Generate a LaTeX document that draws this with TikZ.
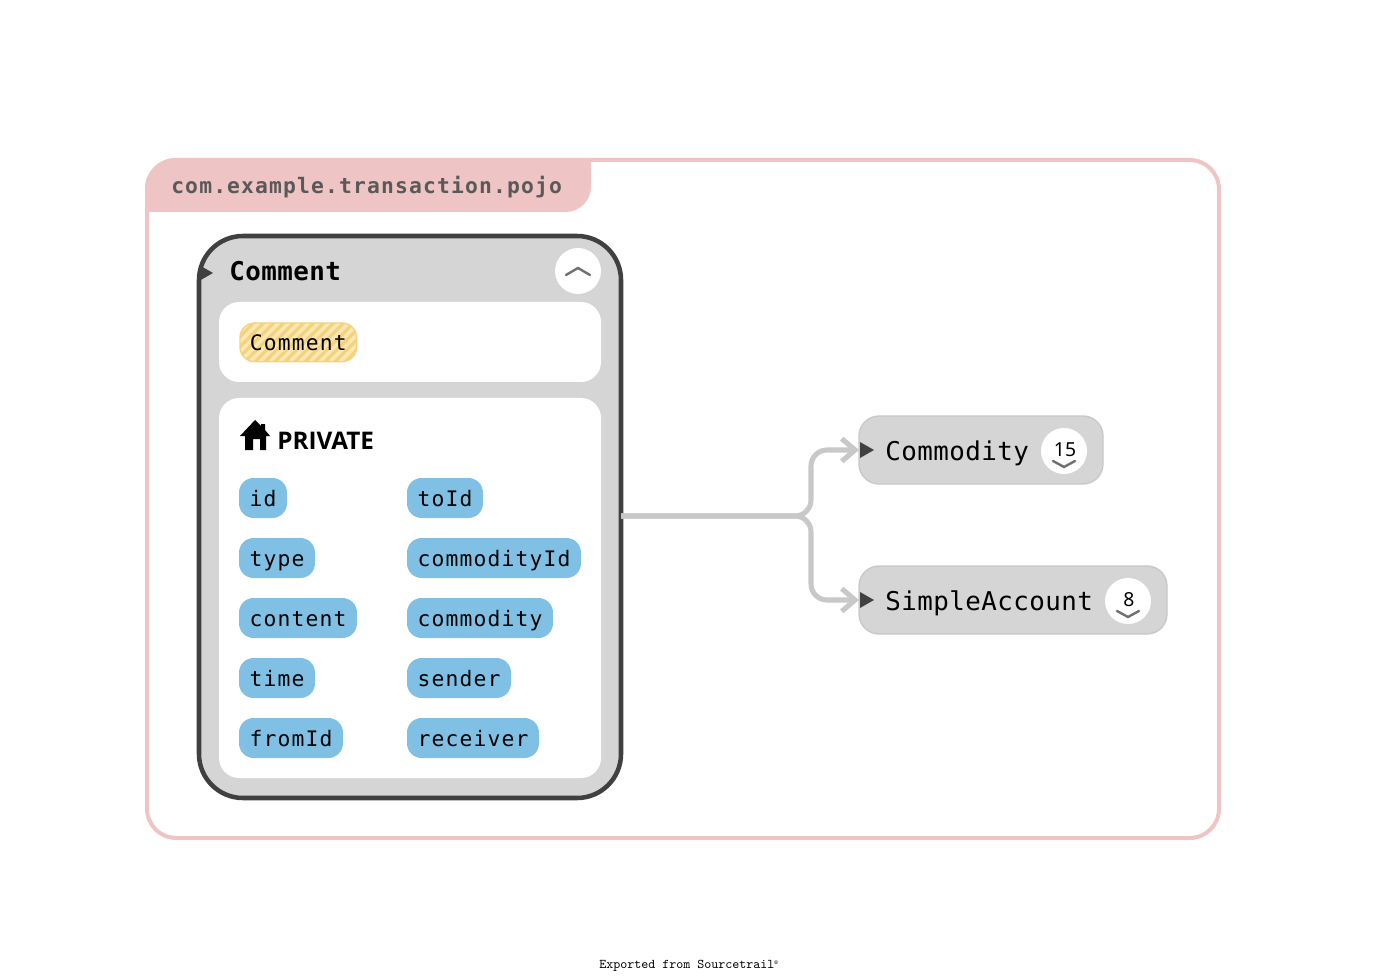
\documentclass[tikz,border=0pt]{standalone}
\usepackage{fontspec}
\usetikzlibrary{arrows.meta}
\setmainfont{Noto Sans}
\newfontfamily\codefont[LetterSpace=5.4]{DejaVu Sans Mono}
\newfontfamily\wideFont[LetterSpace=1.7]{DejaVu Sans Mono}
\newfontfamily\headfont{Open Sans}
\definecolor{grouppink}{HTML}{EFC4C4}
\definecolor{panelgray}{HTML}{D5D5D5}
\definecolor{edgegray}{HTML}{C8C8C8}
\definecolor{darkline}{HTML}{404040}
\definecolor{fieldblue}{HTML}{80C0E4}
\definecolor{hatchyellow}{HTML}{F5D27E}
\definecolor{hatchlight}{HTML}{FBE8B4}
\tikzset{
    fieldpill/.style={anchor=north west,rounded corners=11pt,minimum height=30pt,inner sep=0pt,outer sep=0pt,
        font=\codefont\fontsize{16}{16}\selectfont,text height=14.7pt,text depth=2.5pt},
    section/.style={anchor=north west,fill=white,rounded corners=15pt,inner sep=0pt,outer sep=0pt,minimum width=286.5pt},
    refnode/.style={anchor=north west,fill=panelgray,draw=edgegray,line width=1pt,rounded corners=15pt,inner sep=0pt,
        outer sep=0pt,minimum height=51pt},
    reftext/.style={anchor=base west,inner sep=0pt,font=\wideFont\fontsize{19.4}{20}\selectfont},
    badge/.style={circle,fill=white,minimum size=34.5pt,inner sep=0pt},
    badgetext/.style={inner sep=0pt,font=\fontsize{14.5}{15}\selectfont},
    chevron/.style={draw=darkline!75,line width=1.8pt,line cap=round},
    marker/.style={fill=darkline},
    edge/.style={draw=edgegray,line width=3.8pt,rounded corners=12pt,
        -{Straight Barb[length=10pt,width=17pt,line width=3.8pt]}}
}
\begin{document}
\begin{tikzpicture}[x=0.75pt,y=-0.75pt]
    \useasboundingbox (0,0) rectangle (1374,980);

    % the package frame and its tab
    \node[anchor=north west,draw=grouppink,line width=3pt,rounded corners=22pt,inner sep=0pt,outer sep=0pt,
        minimum width=804pt,minimum height=508.5pt] (package) at (147,160) {};
    \fill[grouppink] (145,212) [rounded corners=23pt] -- (145,158) [sharp corners] -- (591,158)
        [rounded corners=19pt] -- (591,212) [sharp corners] -- cycle;
    \node[anchor=base west,inner sep=0pt,text=black!65,font=\codefont\bfseries\fontsize{16}{16}\selectfont]
        (packagename) at (171,194) {com.example.transaction.pojo};

    % the expanded class
    \node[anchor=north west,draw=darkline,fill=panelgray,line width=3.4pt,rounded corners=33pt,inner sep=0pt,outer sep=0pt,
        minimum width=316.5pt,minimum height=421.5pt] (comment) at (199,236) {};
    \fill[marker] (199,265) -- (213,273) -- (199,281) -- cycle;
    \node[anchor=base west,inner sep=0pt,font=\wideFont\bfseries\fontsize{19.4}{20}\selectfont] (commenttitle) at (229,281) {Comment};
    \node[badge] (collapse) at (578,271) {};
    \draw[chevron] (566,275) -- (578,268) -- (590,275);

    \node[section,minimum height=60pt] (header) at (219,302) {};
    \node[section,minimum height=285pt] (members) at (219,398) {};

    % the type pill, striped
    \node[fieldpill,minimum width=87.5pt,minimum height=29pt,fill=hatchyellow,draw=hatchyellow,line width=1pt,path picture={
            \foreach \s in {-40,-30,...,120}
                \draw[hatchlight,line width=2.6pt] (path picture bounding box.south west) ++(\s,0) -- ++(40,-40);
        }] (typepill) at (240,323) {Comment};

    % the house and the heading
    \fill[black] (245,450) -- (245,436) -- (240,436) -- (255,420) -- (261,426) -- (261,424) -- (265,424) -- (265,430)
        -- (270,436) -- (266,436) -- (266,450) -- (260,450) -- (260,439) -- (253,439) -- (253,450) -- cycle;
    \node[anchor=base west,inner sep=0pt,font=\headfont\bfseries\fontsize{18.2}{18}\selectfont] (private) at (277,450) {PRIVATE};

    % the fields
    \foreach \name/\xpos/\ypos/\wid in {
        id/239/478/48,
        type/239/538/76,
        content/239/598/118,
        time/239/658/76,
        fromId/239/718/104,
        toId/407/478/76,
        commodityId/407/538/174,
        commodity/407/598/146,
        sender/407/658/104,
        receiver/407/718/132}
            \node[fieldpill,fill=fieldblue,minimum width=\wid*0.75pt] (field\name) at (\xpos,\ypos) {\name};

    % the two referenced classes
    \node[refnode,minimum width=183pt] (commodity) at (859,416) {};
    \node[refnode,minimum width=231pt] (simpleaccount) at (859,566) {};
    \node[reftext] (commoditytext) at (885,460) {Commodity};
    \node[reftext] (simpleaccounttext) at (885,610) {SimpleAccount};

    \node[badge] (commoditybadge) at (1064,451) {};
    \node[badgetext] (commoditycount) at (1065,450) {15};
    \draw[chevron] (1053,461) -- (1064,467) -- (1075,461);
    \node[badge] (simpleaccountbadge) at (1128,601) {};
    \node[badgetext] (simpleaccountcount) at (1129,600) {8};
    \draw[chevron] (1117,611) -- (1128,617) -- (1139,611);

    % the connectors
    \coordinate (bus) at (811,516);
    \draw[edge] (comment.east |- bus) -- (bus) |- (commodity.west);
    \draw[edge] (comment.east |- bus) -- (bus) |- (simpleaccount.west);
    \fill[marker] (860,442) -- (874,450) -- (860,458) -- cycle;
    \fill[marker] (860,592) -- (874,600) -- (860,608) -- cycle;

    % the footer
    \node[anchor=base west,inner sep=0pt,font=\ttfamily\fontsize{10}{10}\selectfont] (footer) at (599,968) {Exported from Sourcetrail\raisebox{2.5pt}{\fontsize{5}{5}\selectfont\textregistered}};
\end{tikzpicture}
\end{document}
